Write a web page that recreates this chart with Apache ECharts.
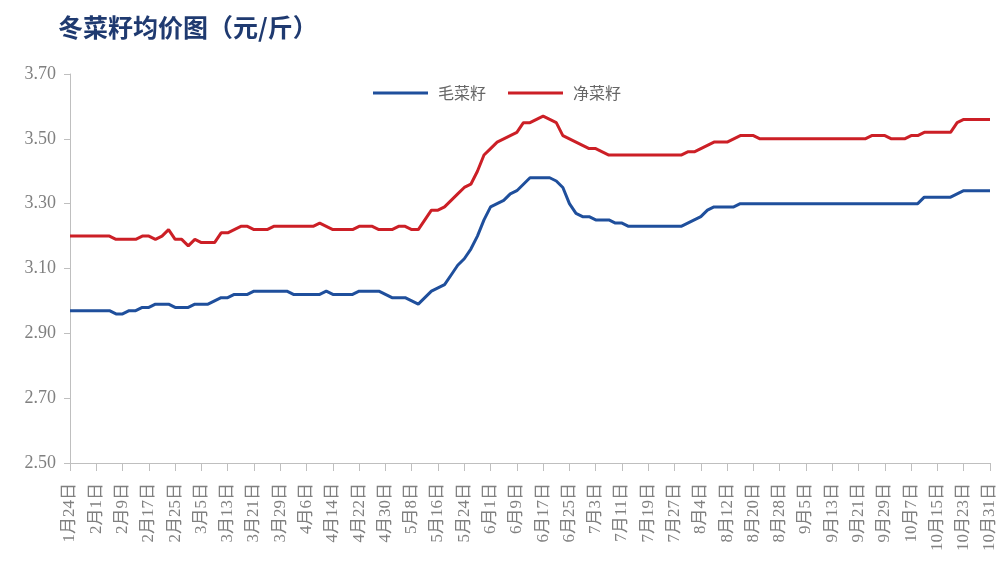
<!DOCTYPE html>
<html>
<head>
<meta charset="utf-8">
<title>冬菜籽均价图</title>
<script src="https://cdn.jsdelivr.net/npm/echarts@6/dist/echarts.min.js"></script>
<style>
  html, body { margin: 0; padding: 0; background: #fff; }
  #chart { width: 999px; height: 574px; }
</style>
</head>
<body>
<div id="chart"></div>
<script>
// 日期：1月24日起每2天一个点，至10月31日
var startDate = Date.UTC(2023, 0, 24);
var stepDays = 2;

// 毛菜籽（元/斤）
var maoValues = [
  2.97, 2.97, 2.97, 2.97, 2.97, 2.97, 2.97, 2.96, 2.96, 2.97,
  2.97, 2.98, 2.98, 2.99, 2.99, 2.99, 2.98, 2.98, 2.98, 2.99,
  2.99, 2.99, 3.00, 3.01, 3.01, 3.02, 3.02, 3.02, 3.03, 3.03,
  3.03, 3.03, 3.03, 3.03, 3.02, 3.02, 3.02, 3.02, 3.02, 3.03,
  3.02, 3.02, 3.02, 3.02, 3.03, 3.03, 3.03, 3.03, 3.02, 3.01,
  3.01, 3.01, 3.00, 2.99, 3.01, 3.03, 3.04, 3.05, 3.08, 3.11,
  3.13, 3.16, 3.20, 3.25, 3.29, 3.30, 3.31, 3.33, 3.34, 3.36,
  3.38, 3.38, 3.38, 3.38, 3.37, 3.35, 3.30, 3.27, 3.26, 3.26,
  3.25, 3.25, 3.25, 3.24, 3.24, 3.23, 3.23, 3.23, 3.23, 3.23,
  3.23, 3.23, 3.23, 3.23, 3.24, 3.25, 3.26, 3.28, 3.29, 3.29,
  3.29, 3.29, 3.30, 3.30, 3.30, 3.30, 3.30, 3.30, 3.30, 3.30,
  3.30, 3.30, 3.30, 3.30, 3.30, 3.30, 3.30, 3.30, 3.30, 3.30,
  3.30, 3.30, 3.30, 3.30, 3.30, 3.30, 3.30, 3.30, 3.30, 3.30,
  3.32, 3.32, 3.32, 3.32, 3.32, 3.33, 3.34, 3.34, 3.34, 3.34,
  3.34
];

// 净菜籽（元/斤）
var jingValues = [
  3.20, 3.20, 3.20, 3.20, 3.20, 3.20, 3.20, 3.19, 3.19, 3.19,
  3.19, 3.20, 3.20, 3.19, 3.20, 3.22, 3.19, 3.19, 3.17, 3.19,
  3.18, 3.18, 3.18, 3.21, 3.21, 3.22, 3.23, 3.23, 3.22, 3.22,
  3.22, 3.23, 3.23, 3.23, 3.23, 3.23, 3.23, 3.23, 3.24, 3.23,
  3.22, 3.22, 3.22, 3.22, 3.23, 3.23, 3.23, 3.22, 3.22, 3.22,
  3.23, 3.23, 3.22, 3.22, 3.25, 3.28, 3.28, 3.29, 3.31, 3.33,
  3.35, 3.36, 3.40, 3.45, 3.47, 3.49, 3.50, 3.51, 3.52, 3.55,
  3.55, 3.56, 3.57, 3.56, 3.55, 3.51, 3.50, 3.49, 3.48, 3.47,
  3.47, 3.46, 3.45, 3.45, 3.45, 3.45, 3.45, 3.45, 3.45, 3.45,
  3.45, 3.45, 3.45, 3.45, 3.46, 3.46, 3.47, 3.48, 3.49, 3.49,
  3.49, 3.50, 3.51, 3.51, 3.51, 3.50, 3.50, 3.50, 3.50, 3.50,
  3.50, 3.50, 3.50, 3.50, 3.50, 3.50, 3.50, 3.50, 3.50, 3.50,
  3.50, 3.50, 3.51, 3.51, 3.51, 3.50, 3.50, 3.50, 3.51, 3.51,
  3.52, 3.52, 3.52, 3.52, 3.52, 3.55, 3.56, 3.56, 3.56, 3.56,
  3.56
];

var seriesNames = ['毛菜籽', '净菜籽'];
var seriesColors = ['#1f4f9c', '#cc1f26'];

// 横轴日期类目
var categories = [];
for (var i = 0; i < maoValues.length; i++) {
  var d = new Date(startDate + i * stepDays * 86400000);
  categories.push((d.getUTCMonth() + 1) + '月' + d.getUTCDate() + '日');
}

var myChart = echarts.init(document.getElementById('chart'));

var option = {
  backgroundColor: '#fff',
  animation: false,
  title: {
    text: '冬菜籽均价图（元/斤）',
    left: 53,
    top: 10,
    textStyle: {
      fontFamily: 'Noto Sans CJK SC',
      fontSize: 25,
      fontWeight: 'bold',
      color: '#1f3a70'
    }
  },
  legend: {
    left: 368,
    top: 80,
    icon: 'rect',
    itemWidth: 55,
    itemHeight: 3,
    itemGap: 22,
    textStyle: {
      fontFamily: 'Noto Sans CJK SC',
      fontSize: 16,
      color: '#666',
      padding: [0, 0, 0, 5]
    },
    data: seriesNames
  },
  grid: {
    left: 70,
    right: 9,
    top: 74,
    bottom: 111
  },
  xAxis: {
    type: 'category',
    boundaryGap: false,
    data: categories,
    axisLine: { lineStyle: { color: '#bfbfbf', width: 1 } },
    axisTick: {
      interval: 3,
      length: 8,
      lineStyle: { color: '#bfbfbf' }
    },
    axisLabel: {
      interval: 3,
      rotate: 90,
      margin: 20,
      fontFamily: 'Liberation Serif, Noto Sans CJK SC',
      fontSize: 17,
      color: '#808080'
    },
    splitLine: { show: false }
  },
  yAxis: {
    type: 'value',
    min: 2.5,
    max: 3.7,
    interval: 0.2,
    axisLine: { show: true, lineStyle: { color: '#bfbfbf', width: 1 } },
    axisTick: { show: true, length: 6, lineStyle: { color: '#bfbfbf' } },
    axisLabel: {
      margin: 14,
      fontFamily: 'Liberation Serif',
      fontSize: 18,
      color: '#808080',
      formatter: function (v) { return v.toFixed(2); }
    },
    splitLine: { show: false }
  },
  series: [
    {
      name: seriesNames[0],
      type: 'line',
      data: maoValues,
      symbol: 'none',
      lineStyle: { width: 3, color: seriesColors[0] },
      itemStyle: { color: seriesColors[0] }
    },
    {
      name: seriesNames[1],
      type: 'line',
      data: jingValues,
      symbol: 'none',
      lineStyle: { width: 3, color: seriesColors[1] },
      itemStyle: { color: seriesColors[1] }
    }
  ]
};

myChart.setOption(option);
window.addEventListener('resize', function () {
  myChart.resize();
});
</script>
</body>
</html>
